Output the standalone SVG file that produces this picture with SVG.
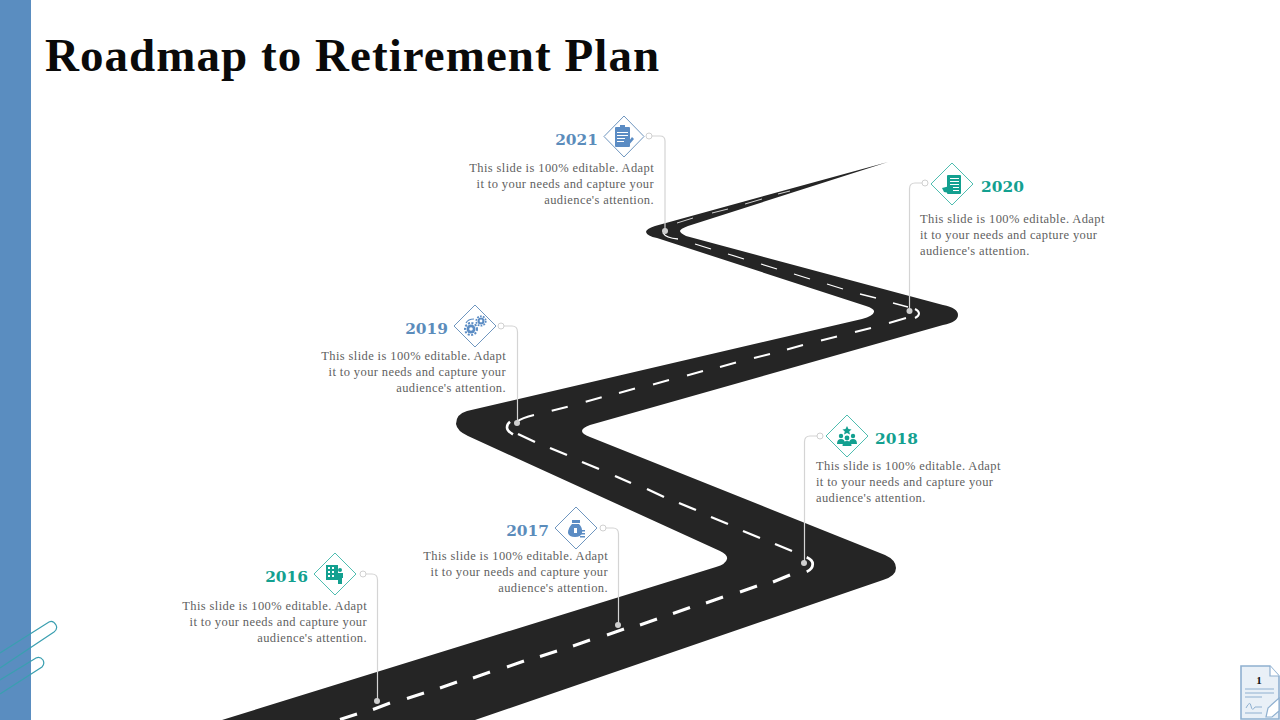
<svg xmlns="http://www.w3.org/2000/svg" width="1280" height="720" viewBox="0 0 1280 720">
<style>
.title{font-family:"Liberation Serif",serif;font-weight:700;font-size:47px;fill:#0a0a0a;letter-spacing:1.05px}
.body{font-family:"Liberation Serif",serif;font-size:12.5px;fill:#5f5f5f;letter-spacing:.39px}
.r{text-anchor:end}
.yr{font-family:"DejaVu Serif",serif;font-weight:700;font-size:15.4px}
.blue .yr{fill:#5b8cbb}.teal .yr{fill:#13a090}
.blue .dia{fill:#fff;stroke:#6f96bf;stroke-width:1}
.teal .dia{fill:#fff;stroke:#4fbdb0;stroke-width:1}
.blue .ic{fill:#5b8cc4}.teal .ic{fill:#13a090}
.ic .w{fill:#fff}
.conn{fill:none;stroke:#d4d4d4;stroke-width:1.2}
.ring{fill:#fff;stroke:#d0d0d0;stroke-width:1}
.dot{fill:#cfcfcf}
.d{stroke:#fff;fill:none;stroke-linecap:butt}
.pill{fill:none;stroke:#3a9fb0;stroke-width:1.2}
</style>
<rect x="0" y="0" width="31" height="720" fill="#5a8dc0"/>
<path class="pill" d="M0,653 L49,622 Q53,620 56,625 Q58,629 54,632 L0,668"/>
<path class="pill" d="M0,680 L36,658 Q40,656 43,660 Q45,664 42,667 L0,694"/>
<text class="title" x="45" y="71">Roadmap to Retirement Plan</text>

<g id="road">
<path fill="#252525" d="M888,162 L655,226 Q646,229 646,232 Q647,236 657,238 L866,306 Q875,309 874,312 Q873,316 862,319 L467,411 Q456,414 456,424 Q457,431 468,436 L720,551 Q728,555 727,559 Q726,564 716,567 L222,720 L475,720 L883,580 Q896,576 896,568 Q896,560 885,555 L590,437 Q582,434 582,431 Q582,428 590,425 L943,325 Q958,322 958,315 Q958,308 943,305 L686,236 Q680,233 680,231 Q680,229 688,226 Z"/>
<g class="d" stroke-width="3">
<path d="M340,719.500 L357,714M373,709.500 L390,703M407,698.500 L424,693M440,688 L457,682M473,678 L490,672M507,667 L524,661M540,656.500 L557,651M573,646 L590,640M607,635 L624,629M640,625 L657,619M673,613.500 L690,607.500M706,603 L723,597M740,592 L757,586M773,582 L790,575"/>
</g>
<g class="d" stroke-width="2.400">
<path d="M518,434 L535,442M550,448 L567,455M582,462 L599,469M615,476 L631,483M647,489 L664,497M679,503 L696,510M711,517 L728,524M743,531 L760,538M775,544 L792,551"/>
<path d="M806.700,557.300 Q812.700,560 812.700,564 Q812.700,569 806.700,571.700" stroke-width="2.800"/>
</g>
<g class="d" stroke-width="2">
<path d="M516.700,421.700 Q522,418 534,415M551.700,410.700 L567.700,406.700M585.700,401.700 L601.700,397.300M619,393 L635,388.500M653,384.500 L669,380M687,375.500 L703,371M720,367 L736,362.500M754,358 L770,354M787,349.500 L803,345M821,340.500 L837,336.500M855,332 L871,328M889,323 L906,318"/>
<path d="M513,434.300 Q507,431 507,427.500 Q507,424 510,421.700" stroke-width="2.600"/>
<path d="M915,309 Q919,311 919,313.500 Q919,316 915,318"/>
</g>
<g class="d" stroke-width="1.300">
<path d="M663,233 Q666,238 678,239M695,244 L711,249M728,254 L744,259M761,264 L777,269M794,274 L810,279M827,284 L843,289M860,294 L876,298M893,303 L908,307"/>
</g>
<g class="d" stroke-width="0.800">
<path d="M677,223 L693,218M712,213 L728,209M745,204 L762,199M778,194 L790,191"/>
</g>
</g>

<g id="connectors">
<path class="conn" d="M652,136 H660 Q665,136 665,141 V231"/>
<path class="conn" d="M922,183 H915 Q909.500,183 909.500,189 V311"/>
<path class="conn" d="M504,326 H512 Q517.500,326 517.500,332 V423"/>
<path class="conn" d="M817,436 H810 Q804.500,436 804.500,442 V563"/>
<path class="conn" d="M606,528 H613 Q618.500,528 618.500,534 V625"/>
<path class="conn" d="M366,574 H372 Q377.500,574 377.500,580 V701"/>
<circle class="ring" cx="649" cy="136" r="3"/><circle class="dot" cx="665" cy="231" r="3"/>
<circle class="ring" cx="925" cy="183" r="3"/><circle class="dot" cx="909.500" cy="311" r="3"/>
<circle class="ring" cx="501" cy="326" r="3"/><circle class="dot" cx="517" cy="423" r="3"/>
<circle class="ring" cx="820" cy="436" r="3"/><circle class="dot" cx="804" cy="563" r="3"/>
<circle class="ring" cx="603" cy="528" r="3"/><circle class="dot" cx="618" cy="625" r="3"/>
<circle class="ring" cx="363" cy="574" r="3"/><circle class="dot" cx="377" cy="701" r="3"/>
</g>

<g id="node-2021" class="blue">
<path class="dia" d="M624,116 L644,136.500 L624,157 L604,136.500 Z"/>
<g class="ic"><rect x="615" y="127" width="15" height="20" rx="1"/><rect x="620" y="125" width="5" height="4"/><g class="w"><rect x="617" y="132" width="11" height="1"/><rect x="617" y="135" width="11" height="1"/><rect x="617" y="138" width="8" height="1"/><rect x="617" y="141" width="7" height="1"/></g><path d="M626,145 L632,137 L634,139 L628,146 Z"/></g>
<text class="yr r" x="598" y="145">2021</text>
<text class="body r" x="654" y="172">This slide is 100% editable. Adapt</text>
<text class="body r" x="654" y="188">it to your needs and capture your</text>
<text class="body r" x="654" y="204">audience's attention.</text>
</g>

<g id="node-2020" class="teal">
<path class="dia" d="M952,163 L973,184 L952,205 L931,184 Z"/>
<g class="ic"><rect x="947" y="175" width="14" height="19" rx="1"/><path d="M942,188 L950,186 L953,190 L949,193 L944,192 Z"/><g class="w"><rect x="950" y="178" width="9" height="1"/><rect x="950" y="181" width="9" height="1"/><rect x="950" y="184" width="9" height="1"/><rect x="953" y="187" width="6" height="1"/><rect x="953" y="190" width="6" height="1"/></g></g>
<text class="yr" x="981" y="192">2020</text>
<text class="body" x="920" y="223">This slide is 100% editable. Adapt</text>
<text class="body" x="920" y="239">it to your needs and capture your</text>
<text class="body" x="920" y="255">audience's attention.</text>
</g>

<g id="node-2019" class="blue">
<path class="dia" d="M475,305 L496,326 L475,347 L454,326 Z"/>
<g class="ic"><circle cx="471" cy="329" r="4.500"/><circle cx="471" cy="329" r="6" fill="none" stroke="#5b8cc4" stroke-width="2" stroke-dasharray="2 1.500"/><circle class="w" cx="471" cy="329" r="1.800"/><circle cx="481" cy="321" r="3.500"/><circle cx="481" cy="321" r="4.800" fill="none" stroke="#5b8cc4" stroke-width="1.600" stroke-dasharray="1.800 1.200"/><circle class="w" cx="481" cy="321" r="1.400"/><path d="M466,323 Q468,319 474,319" fill="none" stroke="#5b8cc4" stroke-width="1.200"/></g>
<text class="yr r" x="448" y="334">2019</text>
<text class="body r" x="506" y="360">This slide is 100% editable. Adapt</text>
<text class="body r" x="506" y="376">it to your needs and capture your</text>
<text class="body r" x="506" y="392">audience's attention.</text>
</g>

<g id="node-2018" class="teal">
<path class="dia" d="M847,415 L868,436 L847,457 L826,436 Z"/>
<g class="ic"><path d="M847,426 L848.500,429 L851.500,429.500 L849.200,431.500 L850,434.500 L847,433 L844,434.500 L844.800,431.500 L842.500,429.500 L845.500,429 Z"/><circle cx="841" cy="436" r="2.200"/><path d="M837,444 Q837,439 841,439 Q845,439 845,444 Z"/><circle cx="853" cy="436" r="2.200"/><path d="M849,444 Q849,439 853,439 Q857,439 857,444 Z"/><circle cx="847" cy="438" r="2.400"/><path d="M842.500,446 Q842.500,441 847,441 Q851.500,441 851.500,446 Z"/></g>
<text class="yr" x="875" y="444">2018</text>
<text class="body" x="816" y="470">This slide is 100% editable. Adapt</text>
<text class="body" x="816" y="486">it to your needs and capture your</text>
<text class="body" x="816" y="502">audience's attention.</text>
</g>

<g id="node-2017" class="blue">
<path class="dia" d="M576,507 L597,528 L576,549 L555,528 Z"/>
<g class="ic"><rect x="572" y="520" width="8" height="3"/><path d="M572,524 H579 Q583,528 582,533 Q581,537 575,537 Q569,537 568,533 Q568,528 572,524 Z"/><rect class="w" x="574" y="528" width="3" height="5"/><rect x="580" y="530" width="5" height="1.500"/><rect x="580" y="533" width="5" height="1.500"/><rect x="580" y="536" width="5" height="1.500"/></g>
<text class="yr r" x="549" y="536">2017</text>
<text class="body r" x="608" y="560">This slide is 100% editable. Adapt</text>
<text class="body r" x="608" y="576">it to your needs and capture your</text>
<text class="body r" x="608" y="592">audience's attention.</text>
</g>

<g id="node-2016" class="teal">
<path class="dia" d="M335,553 L356,574 L335,595 L314,574 Z"/>
<g class="ic"><rect x="326" y="565" width="12" height="15"/><g class="w"><rect x="328" y="567" width="2" height="2"/><rect x="332" y="567" width="2" height="2"/><rect x="328" y="571" width="2" height="2"/><rect x="332" y="571" width="2" height="2"/><rect x="328" y="575" width="2" height="2"/><rect x="332" y="575" width="2" height="2"/></g><circle cx="340" cy="570" r="2"/><path d="M337,573 H343 V578 H342 V584 H338 V578 H337 Z"/></g>
<text class="yr r" x="308" y="582">2016</text>
<text class="body r" x="367" y="610">This slide is 100% editable. Adapt</text>
<text class="body r" x="367" y="626">it to your needs and capture your</text>
<text class="body r" x="367" y="642">audience's attention.</text>
</g>

<g id="page-number">
<path d="M1241,666 H1270 L1279,676 V719 H1241 Z" fill="#e9f0f7" stroke="#8fb0d0" stroke-width="1.600"/>
<path d="M1270,666 V676 H1279" fill="#fff" stroke="#8fb0d0" stroke-width="1.200"/>
<text x="1259" y="684" font-family="Liberation Serif, serif" font-weight="700" font-size="11" text-anchor="middle" fill="#111">1</text>
<path d="M1245,689 H1274M1245,693 H1274M1245,697 H1262M1246,708 Q1250,700 1251,706 Q1252,712 1255,707 H1262M1245,713 H1262" fill="none" stroke="#8fb0d0" stroke-width="1"/>
<path d="M1266,717 L1268,708 L1279,698 V711 L1272,717 Z" fill="#fff" stroke="#8fb0d0" stroke-width="1.200"/>
</g>
</svg>
